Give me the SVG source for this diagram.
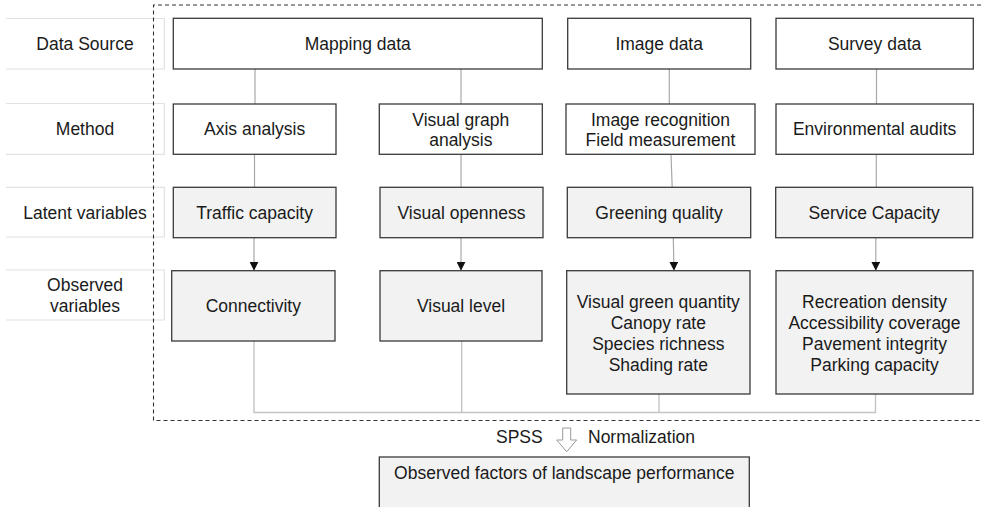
<svg xmlns="http://www.w3.org/2000/svg" width="987" height="507" viewBox="0 0 987 507">
<style>
text{font-family:"Liberation Sans",Arial,sans-serif;font-size:17.5px;fill:#1a1a1a;text-anchor:middle}
.box{fill:#ffffff;stroke:#3a3a3a;stroke-width:1.3}
.gbox{fill:#f2f2f2;stroke:#3a3a3a;stroke-width:1.3}
.lbl{fill:none;stroke:#e2e2e2;stroke-width:1.2}
.con{fill:none;stroke:#a8a8a8;stroke-width:1.2}
.bot{fill:none;stroke:#c4c4c4;stroke-width:1.4}
.dash{fill:none;stroke:#333;stroke-width:1.1;stroke-dasharray:4 3}
</style>
<defs>
<marker id="arr" viewBox="0 0 10 10" refX="10" refY="5" markerWidth="9" markerHeight="9" markerUnits="userSpaceOnUse" orient="auto"><path d="M0,0 L10,5 L0,10 z" fill="#111"/></marker>
</defs>
<rect width="987" height="507" fill="#ffffff"/>
<!-- row labels -->
<g id="row-data-source"><path class="lbl" d="M6,18.5 H164.3 V69 H6"/><text x="85" y="50">Data Source</text></g>
<g id="row-method"><path class="lbl" d="M6,103.5 H164.3 V154.3 H6"/><text x="85" y="135">Method</text></g>
<g id="row-latent"><path class="lbl" d="M6,187.3 H164.3 V237 H6"/><text x="85" y="218.5">Latent variables</text></g>
<g id="row-observed"><path class="lbl" d="M6,270 H164.3 V320 H6"/><text x="85" y="291">Observed</text><text x="85" y="312">variables</text></g>
<!-- dashed frame -->
<path class="dash" d="M981,5 H153.5 V420.5 H981"/>
<!-- connectors -->
<g id="connectors">
<line class="con" x1="255" y1="69" x2="255" y2="104"/>
<line class="con" x1="461" y1="69" x2="461" y2="104"/>
<line class="con" x1="669.3" y1="69" x2="669.3" y2="104"/>
<line class="con" x1="876.5" y1="69" x2="876.5" y2="104"/>
<line class="con" x1="254.5" y1="154" x2="254.5" y2="187.3"/>
<line class="con" x1="461" y1="154" x2="461" y2="187.3"/>
<line class="con" x1="671" y1="154.5" x2="672.2" y2="187.3"/>
<line class="con" x1="876.3" y1="154" x2="876.3" y2="187.3"/>
<line class="con" x1="254" y1="237.7" x2="254" y2="270.7" marker-end="url(#arr)"/>
<line class="con" x1="461" y1="237.7" x2="461" y2="270.7" marker-end="url(#arr)"/>
<line class="con" x1="673.3" y1="237.7" x2="674" y2="270.7" marker-end="url(#arr)"/>
<line class="con" x1="875.8" y1="237.7" x2="875.8" y2="270.7" marker-end="url(#arr)"/>
<path class="bot" d="M254,341 V412.5 H875.5 V394"/>
<line class="bot" x1="461.7" y1="341" x2="461.7" y2="412.5"/>
<line class="bot" x1="659" y1="394" x2="659" y2="412.5"/>
</g>
<!-- data source -->
<g id="mapping-data"><rect class="box" x="173.3" y="18.3" width="369" height="50.7"/><text x="357.8" y="50">Mapping data</text></g>
<g id="image-data"><rect class="box" x="567.7" y="18.3" width="183" height="50.7"/><text x="659.2" y="50">Image data</text></g>
<g id="survey-data"><rect class="box" x="776" y="18.3" width="197.3" height="50.7"/><text x="874.6" y="50">Survey data</text></g>
<!-- methods -->
<g id="axis-analysis"><rect class="box" x="173.3" y="104" width="162.7" height="50.3"/><text x="254.6" y="135">Axis analysis</text></g>
<g id="visual-graph-analysis"><rect class="box" x="379.3" y="104" width="163" height="50.3"/><text x="460.8" y="125.5">Visual graph</text><text x="460.8" y="146.2">analysis</text></g>
<g id="image-recognition"><rect class="box" x="566" y="104" width="189" height="50.3"/><text x="660.5" y="125.5">Image recognition</text><text x="660.5" y="146.2">Field measurement</text></g>
<g id="environmental-audits"><rect class="box" x="776" y="104" width="197.3" height="50.3"/><text x="874.6" y="135">Environmental audits</text></g>
<!-- latent -->
<g id="traffic-capacity"><rect class="gbox" x="173.3" y="187.3" width="162.7" height="50.4"/><text x="254.6" y="218.5">Traffic capacity</text></g>
<g id="visual-openness"><rect class="gbox" x="380" y="187.3" width="163" height="50.4"/><text x="461.5" y="218.5">Visual openness</text></g>
<g id="greening-quality"><rect class="gbox" x="567.3" y="187.3" width="183.4" height="50.4"/><text x="659" y="218.5">Greening quality</text></g>
<g id="service-capacity"><rect class="gbox" x="775.7" y="187.3" width="197" height="50.4"/><text x="874.2" y="218.5">Service Capacity</text></g>
<!-- observed -->
<g id="connectivity"><rect class="gbox" x="171.7" y="270.7" width="163.3" height="70.3"/><text x="253.3" y="312">Connectivity</text></g>
<g id="visual-level"><rect class="gbox" x="380" y="270.7" width="162" height="70.3"/><text x="461" y="312">Visual level</text></g>
<g id="greening-observed"><rect class="gbox" x="566.7" y="270.7" width="183.3" height="123.3"/><text x="658.3" y="308">Visual green quantity</text><text x="658.3" y="329">Canopy rate</text><text x="658.3" y="350.2">Species richness</text><text x="658.3" y="371.2">Shading rate</text></g>
<g id="service-observed"><rect class="gbox" x="776" y="270.7" width="197" height="123.3"/><text x="874.5" y="308">Recreation density</text><text x="874.5" y="329">Accessibility coverage</text><text x="874.5" y="350.2">Pavement integrity</text><text x="874.5" y="371.2">Parking capacity</text></g>
<!-- normalization -->
<g id="normalization">
<path d="M562.7,428 H570.7 V440 H576.7 L566.7,451.7 L556.7,440 H562.7 Z" fill="#ffffff" stroke="#9a9a9a" stroke-width="1"/>
<text x="542.7" y="443" style="text-anchor:end">SPSS</text>
<text x="588" y="443" style="text-anchor:start">Normalization</text>
</g>
<g id="observed-factors"><rect class="gbox" x="379.3" y="457" width="370" height="70"/><text x="564.3" y="479">Observed factors of landscape performance</text></g>
</svg>
